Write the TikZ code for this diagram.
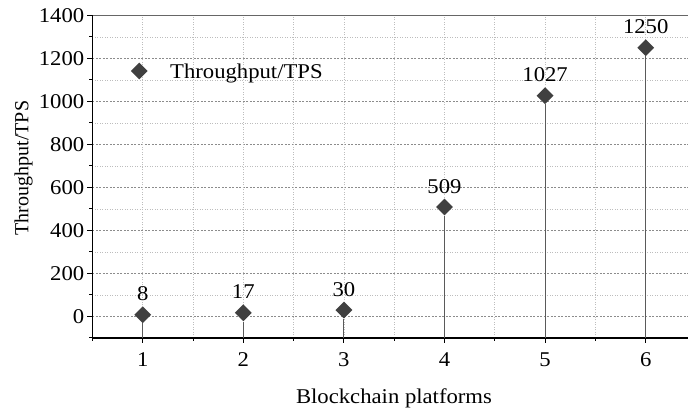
\documentclass[tikz,border=0pt]{standalone}
\usepackage{fontspec}
\setmainfont[FakeStretch=1.08]{Liberation Serif}
\newfontfamily\plainserif{Liberation Serif}
\usetikzlibrary{shapes.geometric}
\definecolor{mark}{HTML}{404040}
\definecolor{stemc}{HTML}{5A5A5A}
\definecolor{gmaj}{HTML}{8C8C8C}
\definecolor{gmin}{HTML}{BDBDBD}
\tikzset{
  dia/.style={diamond,fill=mark,draw=none,inner sep=0pt,minimum width=17pt,minimum height=17pt},
  stemline/.style={draw=stemc,line width=0.9pt},
  datalab/.style={font=\fontsize{21}{24}\selectfont,inner sep=0pt,anchor=base},
  ticklab/.style={font=\fontsize{21}{24}\selectfont,inner sep=0pt},
  titlelab/.style={font=\fontsize{21}{24}\selectfont,inner sep=0pt},
  gridmaj/.style={draw=gmaj,line width=0.8pt,dash pattern=on 2pt off 1.5pt},
  gridmin/.style={draw=gmin,line width=0.8pt,dash pattern=on 1pt off 1.5pt},
  axisline/.style={draw=black,line width=1.3pt},
}
\begin{document}
\begin{tikzpicture}[x=1pt,y=1pt]
\useasboundingbox (0,0) rectangle (688,412);
\begin{scope}[shift={(42.1pt,95.5pt)},x=100.6pt,y=0.215pt]
  % horizontal grid
  \foreach \v in {100,300,...,1300} \draw[gridmin] (0.5,\v) -- (6.43,\v);
  \foreach \v in {0,200,...,1200} \draw[gridmaj] (0.5,\v) -- (6.43,\v);
  % vertical grid
  \foreach \u in {1.5,2.5,...,5.5} \draw[gridmin] (\u,-100) -- (\u,1400);
  \foreach \u in {1,...,6} \draw[gridmin] (\u,-100) -- (\u,1400);
  % ticks
  \foreach \v in {0,200,...,1400} \draw[black,line width=1pt] (0.5,\v) -- ++(-5pt,0);
  \foreach \v in {-100,100,...,1300} \draw[black,line width=1pt] (0.5,\v) -- ++(-3pt,0);
  \foreach \u in {1,...,6} \draw[black,line width=1pt] (\u,-100) -- ++(0,-5pt);
  \foreach \u in {0.5,1.5,...,5.5} \draw[black,line width=1pt] (\u,-100) -- ++(0,-3pt);
  % frame
  \draw[draw=gray!80!black,line width=1pt] (0.5,1400) -- (6.43,1400);
  \draw[axisline] (0.5,1400) -- (0.5,-100) -- (6.43,-100);
  % tick labels
  \foreach \v in {0,200,...,1400} \node[ticklab,anchor=east] (yl\v) at ([xshift=-8pt]0.5,\v) {\v};
  \foreach \u in {1,...,6} \node[ticklab,anchor=center] (xl\u) at ([yshift=-21.5pt]\u,-100) {\u};
  % data
  \foreach \u/\v in {1/8,2/17,3/30,4/509,5/1027,6/1250}{
    \coordinate (b\u) at (\u,-100);
    \node[dia] (p\u) at (\u,\v) {};
    \draw[stemline] (b\u) -- (p\u.south);
    \node[datalab] (l\u) at ([yshift=14pt]p\u.center) {\v};
  }
\end{scope}
% legend
\node[dia] (legm) at (139.3,341) {};
\node[titlelab,anchor=west] (legt) at (170,339) {Throughput/TPS};
% axis titles
\node[inner sep=0pt,rotate=90,font=\plainserif\fontsize{20}{24}\selectfont] (ytitle) at (23.5,244) {Throughput/TPS};
\node[titlelab] (xtitle) at (394,14) {Blockchain platforms};
\end{tikzpicture}
\end{document}
